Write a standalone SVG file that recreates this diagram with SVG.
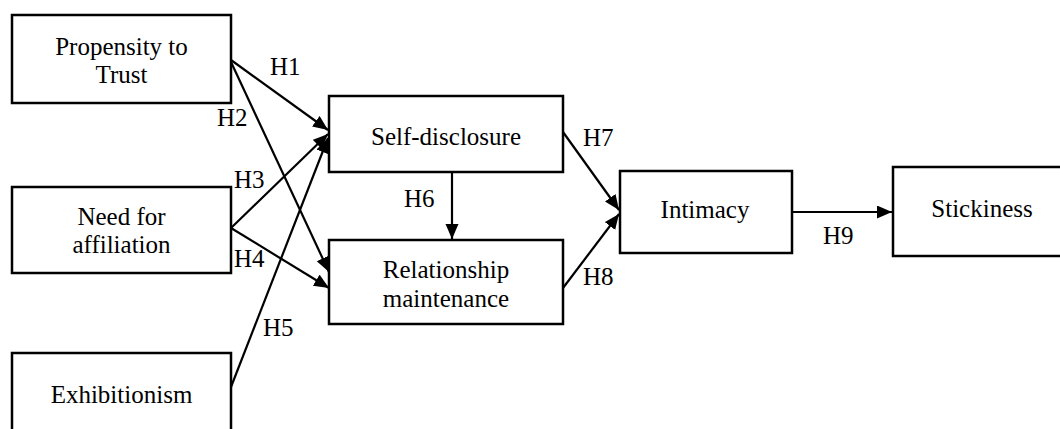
<svg xmlns="http://www.w3.org/2000/svg" width="1060" height="429" viewBox="0 0 1060 429">
<style>
.box{fill:#fff;stroke:#000;stroke-width:2.5}
.t{font-size:25px;fill:#000;text-anchor:middle}
.h{font-size:25px;fill:#000}
.c{stroke:#000;stroke-width:2.2;fill:none;marker-end:url(#ah)}
</style>
<defs>
<marker id="ah" markerUnits="userSpaceOnUse" markerWidth="16" markerHeight="14" refX="15" refY="6.5" orient="auto">
<path d="M0,0 L15,6.5 L0,13 z" fill="#000"/>
</marker>
</defs>
<rect width="1060" height="429" fill="#fff"/>
<g id="connectors">
<line class="c" x1="231" y1="60" x2="328" y2="130"/>
<line class="c" x1="231" y1="62" x2="329" y2="272"/>
<line class="c" x1="231" y1="228" x2="328" y2="134"/>
<line class="c" x1="231" y1="228" x2="329" y2="288"/>
<line class="c" x1="231" y1="387" x2="328" y2="138"/>
<line class="c" x1="452" y1="172" x2="452" y2="239"/>
<line class="c" x1="563" y1="132" x2="619" y2="210"/>
<line class="c" x1="563" y1="288" x2="619" y2="214"/>
<line class="c" x1="792" y1="212" x2="892" y2="212"/>
</g>
<g id="labels" font-family="Liberation Serif, Tinos, Times New Roman, DejaVu Serif, serif">
<text class="h" x="270" y="75">H1</text>
<text class="h" x="217" y="126">H2</text>
<text class="h" x="234" y="188">H3</text>
<text class="h" x="234" y="267">H4</text>
<text class="h" x="263" y="336">H5</text>
<text class="h" x="404" y="207">H6</text>
<text class="h" x="583" y="146">H7</text>
<text class="h" x="583" y="285">H8</text>
<text class="h" x="823" y="244">H9</text>
</g>
<g id="nodes" font-family="Liberation Serif, Tinos, Times New Roman, DejaVu Serif, serif">
<g id="propensity"><rect class="box" x="12" y="15" width="219" height="88"/><text class="t" x="121.5" y="55">Propensity to</text><text class="t" x="121.5" y="83">Trust</text></g>
<g id="affiliation"><rect class="box" x="12" y="187" width="219" height="86"/><text class="t" x="121.5" y="225">Need for</text><text class="t" x="121.5" y="253">affiliation</text></g>
<g id="exhibitionism"><rect class="box" x="12" y="353" width="219" height="90"/><text class="t" x="121.5" y="403">Exhibitionism</text></g>
<g id="selfdisclosure"><rect class="box" x="329" y="96" width="234" height="76"/><text class="t" x="446" y="145">Self-disclosure</text></g>
<g id="relationship"><rect class="box" x="329" y="240" width="234" height="84"/><text class="t" x="446" y="278">Relationship</text><text class="t" x="446" y="307">maintenance</text></g>
<g id="intimacy"><rect class="box" x="620" y="171" width="172" height="82"/><text class="t" x="705" y="218">Intimacy</text></g>
<g id="stickiness"><rect class="box" x="893" y="167" width="180" height="89"/><text class="t" x="982" y="217">Stickiness</text></g>
</g>
</svg>
